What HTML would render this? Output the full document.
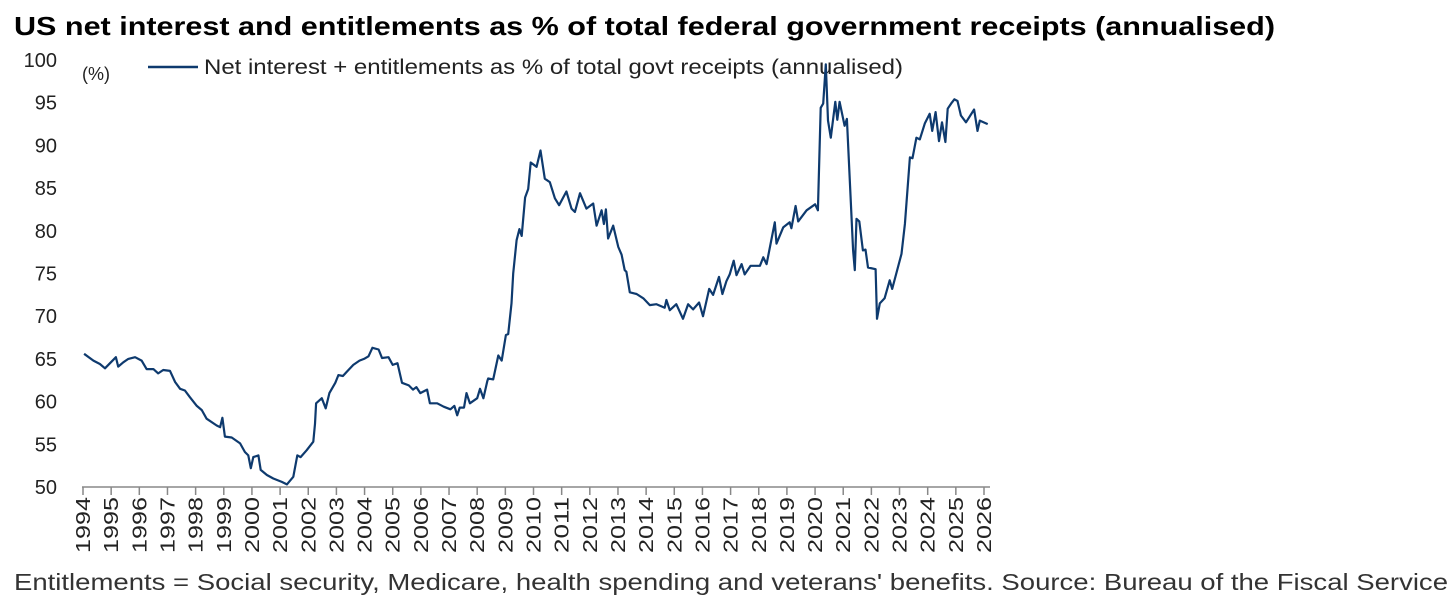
<!DOCTYPE html>
<html><head><meta charset="utf-8"><style>
body{margin:0;background:#fff;width:1456px;height:607px;overflow:hidden;font-family:"Liberation Sans",sans-serif}
svg text{font-family:"Liberation Sans",sans-serif}
</style></head><body>
<svg width="1456" height="607">
<text x="14" y="35" font-size="26" font-weight="bold" fill="#000" textLength="1261" lengthAdjust="spacingAndGlyphs">US net interest and entitlements as % of total federal government receipts (annualised)</text>
<text x="82" y="80" font-size="18" fill="#222">(%)</text>
<line x1="148" y1="67" x2="198" y2="67" stroke="#0e3a6e" stroke-width="2.5"/>
<text x="204" y="74" font-size="21" fill="#222" textLength="699" lengthAdjust="spacingAndGlyphs">Net interest + entitlements as % of total govt receipts (annualised)</text>
<g id="yt"></g>
<g id="xt"></g>
<path id="ln" fill="none" stroke="#0e3a6e" stroke-width="2.2" stroke-linejoin="round"/>
<text x="14" y="590" font-size="23" fill="#333" textLength="1434" lengthAdjust="spacingAndGlyphs">Entitlements = Social security, Medicare, health spending and veterans' benefits. Source: Bureau of the Fiscal Service</text>
</svg>
<script>
const yTicks=[50,55,60,65,70,75,80,85,90,95,100];
const xYears=[1994,1995,1996,1997,1998,1999,2000,2001,2002,2003,2004,2005,2006,2007,2008,2009,2010,2011,2012,2013,2014,2015,2016,2017,2018,2019,2020,2021,2022,2023,2024,2025,2026];
const dates=[1994.04,1994.37,1994.6,1994.78,1994.96,1995.17,1995.25,1995.43,1995.61,1995.85,1996.08,1996.26,1996.5,1996.67,1996.85,1997.09,1997.27,1997.45,1997.62,1997.8,1998.04,1998.22,1998.39,1998.75,1998.87,1998.95,1999.04,1999.28,1999.58,1999.75,1999.87,1999.96,2000.05,2000.23,2000.31,2000.53,2000.76,2001.06,2001.24,2001.47,2001.61,2001.73,2001.94,2002.18,2002.24,2002.28,2002.48,2002.62,2002.75,2002.96,2003.07,2003.23,2003.37,2003.6,2003.82,2003.98,2004.14,2004.28,2004.5,2004.62,2004.85,2005.0,2005.17,2005.33,2005.57,2005.72,2005.84,2005.98,2006.22,2006.32,2006.58,2006.81,2007.05,2007.19,2007.29,2007.38,2007.53,2007.62,2007.74,2008.0,2008.1,2008.22,2008.36,2008.39,2008.57,2008.75,2008.87,2009.02,2009.1,2009.22,2009.28,2009.4,2009.5,2009.58,2009.7,2009.81,2009.9,2010.11,2010.25,2010.4,2010.58,2010.76,2010.91,2011.17,2011.35,2011.47,2011.65,2011.88,2012.12,2012.24,2012.42,2012.5,2012.57,2012.65,2012.83,2013.01,2013.13,2013.24,2013.3,2013.42,2013.66,2013.9,2014.13,2014.37,2014.66,2014.72,2014.84,2015.07,2015.31,2015.49,2015.67,2015.88,2016.02,2016.24,2016.38,2016.59,2016.71,2016.85,2016.97,2017.11,2017.21,2017.39,2017.5,2017.71,2018.04,2018.16,2018.28,2018.57,2018.63,2018.87,2019.1,2019.16,2019.31,2019.4,2019.7,2020.0,2020.1,2020.2,2020.29,2020.38,2020.46,2020.56,2020.72,2020.79,2020.87,2021.05,2021.13,2021.35,2021.41,2021.47,2021.57,2021.7,2021.79,2021.88,2022.15,2022.2,2022.3,2022.47,2022.65,2022.74,2023.07,2023.19,2023.37,2023.46,2023.6,2023.72,2023.9,2024.07,2024.16,2024.28,2024.4,2024.51,2024.63,2024.71,2024.83,2024.95,2025.06,2025.18,2025.36,2025.65,2025.77,2025.85,2026.13];
const values=[65.6,64.8,64.4,63.9,64.5,65.2,64.1,64.6,65.0,65.2,64.8,63.8,63.8,63.3,63.7,63.6,62.3,61.5,61.3,60.5,59.5,59.0,58.0,57.2,57.0,58.1,55.9,55.8,55.1,54.1,53.7,52.2,53.5,53.7,52.0,51.4,51.0,50.6,50.3,51.2,53.7,53.5,54.3,55.3,57.4,59.8,60.4,59.2,61.0,62.2,63.1,63.0,63.5,64.3,64.8,65.0,65.3,66.3,66.1,65.1,65.2,64.3,64.5,62.2,61.9,61.4,61.7,61.0,61.4,59.8,59.8,59.4,59.1,59.5,58.4,59.3,59.3,61.0,59.8,60.4,61.5,60.4,62.4,62.7,62.6,65.4,64.8,67.8,67.9,71.5,75.0,78.9,80.2,79.4,83.9,84.9,88.0,87.5,89.4,86.1,85.7,83.8,83.0,84.6,82.6,82.2,84.4,82.6,83.2,80.6,82.4,80.8,82.5,79.1,80.6,78.1,77.2,75.4,75.2,72.8,72.6,72.1,71.3,71.4,71.0,71.9,70.7,71.4,69.7,71.4,70.8,71.6,70.0,73.2,72.5,74.6,72.6,74.1,74.9,76.5,74.8,76.1,74.9,75.9,75.9,76.9,76.1,81.0,78.5,80.4,81.0,80.3,82.9,81.1,82.4,83.1,82.4,94.4,94.9,99.5,92.9,90.9,95.1,93.0,95.1,92.3,93.1,77.7,75.4,81.4,81.1,77.7,77.8,75.7,75.5,69.7,71.5,72.1,74.2,73.2,77.3,80.8,88.6,88.5,90.9,90.7,92.6,93.7,91.7,93.9,90.5,92.7,90.4,94.3,94.9,95.4,95.2,93.5,92.7,94.2,91.7,92.9,92.5];
const X0=83,X1=984,Y0=487,Y1=60;
const xs=t=>X0+(t-1994)*(X1-X0)/32;
const ys=v=>Y0-(v-50)*(Y0-Y1)/50;
const NS="http://www.w3.org/2000/svg";
const yt=document.getElementById('yt'),xt=document.getElementById('xt');
yTicks.forEach(v=>{const t=document.createElementNS(NS,'text');


t.setAttribute('x',57);t.setAttribute('y',ys(v)+7);t.setAttribute('text-anchor','end');t.setAttribute('font-size','20');t.setAttribute('fill','#222');t.textContent=v;yt.appendChild(t);});
const ax=document.createElementNS(NS,'line');


ax.setAttribute('x1',X0-1);ax.setAttribute('x2',990);ax.setAttribute('y1',Y0);ax.setAttribute('y2',Y0);ax.setAttribute('stroke','#888');ax.setAttribute('stroke-width','1.5');xt.appendChild(ax);
xYears.forEach(yr=>{const x=xs(yr);
const tk=document.createElementNS(NS,'line');


tk.setAttribute('x1',x);tk.setAttribute('x2',x);tk.setAttribute('y1',Y0);tk.setAttribute('y2',Y0+8);tk.setAttribute('stroke','#888');tk.setAttribute('stroke-width','1.5');xt.appendChild(tk);
const t=document.createElementNS(NS,'text');


t.setAttribute('transform',`translate(${x+7},497) rotate(-90)`);t.setAttribute('text-anchor','end');t.setAttribute('font-size','20');t.setAttribute('fill','#222');t.setAttribute('textLength','56');t.setAttribute('lengthAdjust','spacingAndGlyphs');t.textContent=yr;xt.appendChild(t);});
document.getElementById('ln').setAttribute('d',dates.map((d,i)=>(i?'L':'M')+xs(d).toFixed(1)+','+ys(values[i]).toFixed(1)).join(''));
</script>
</body></html>
